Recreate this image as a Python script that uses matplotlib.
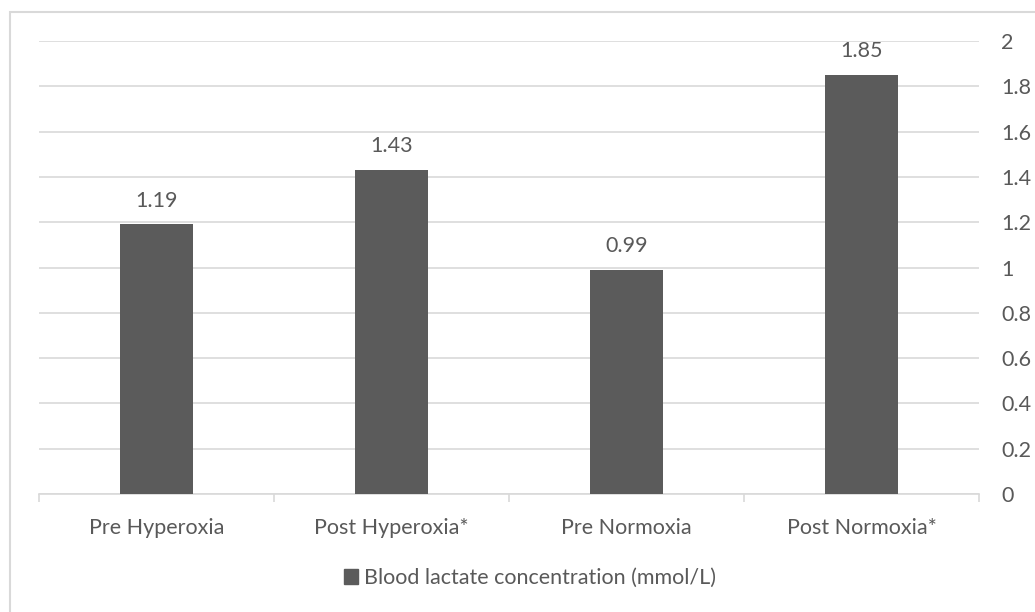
import matplotlib.pyplot as plt
from matplotlib.patches import Rectangle

categories = ["Pre Hyperoxia", "Post Hyperoxia*", "Pre Normoxia", "Post Normoxia*"]
values = [1.19, 1.43, 0.99, 1.85]
y_ticks = [0, 0.2, 0.4, 0.6, 0.8, 1, 1.2, 1.4, 1.6, 1.8, 2]
tick_labels = ["0", "0.2", "0.4", "0.6", "0.8", "1", "1.2", "1.4", "1.6", "1.8", "2"]
legend_label = "Blood lactate concentration (mmol/L)"

bar_color = "#5b5b5b"
text_color = "#595959"
grid_color = "#d9d9d9"
fs = 15.5

plt.rcParams['font.family'] = ['Lato', 'DejaVu Sans']

W, H = 1035, 612
fig = plt.figure(figsize=(W / 100, H / 100), dpi=100)

# chart frame (runs off the right and bottom edges)
fig.patches.append(Rectangle((10 / W, -0.1), 1.2, 1 - 12 / H + 0.1,
                             transform=fig.transFigure, fill=False,
                             edgecolor=grid_color, linewidth=1.5))

ax = fig.add_axes([39 / W, 1 - 494 / H, 940 / W, (494 - 41) / H])
x = list(range(len(categories)))
ax.bar(x, values, width=0.31, color=bar_color, zorder=3)
ax.set_xlim(-0.5, len(categories) - 0.5)
ax.set_ylim(0, 2)

for xi, v in zip(x, values):
    ax.annotate(f"{v:.2f}", (xi, v), xytext=(0, 10), textcoords="offset points",
                ha="center", va="bottom", fontsize=fs, color=text_color)

ax.yaxis.tick_right()
ax.set_yticks(y_ticks)
ax.set_yticklabels(tick_labels)
ax.tick_params(axis="y", length=0, pad=16, labelsize=fs, labelcolor=text_color)
ax.set_xticks(x)
ax.set_xticklabels(categories)
ax.tick_params(axis="x", length=0, pad=17, labelsize=fs, labelcolor=text_color)

# category boundary ticks
ax.set_xticks([-0.5, 0.5, 1.5, 2.5, 3.5], minor=True)
ax.tick_params(axis="x", which="minor", length=6, color=grid_color, width=1.2,
               direction="out")

ax.grid(axis="y", color=grid_color, linewidth=1.2, zorder=0)
for s in ["top", "left", "right"]:
    ax.spines[s].set_visible(False)
ax.spines["bottom"].set_color(grid_color)
ax.spines["bottom"].set_linewidth(1.2)

handle = Rectangle((0, 0), 1, 1, color=bar_color)
fig.legend([handle], [legend_label], loc="center", bbox_to_anchor=(530 / W, 1 - 578 / H),
           frameon=False, fontsize=fs, labelcolor=text_color,
           handlelength=0.65, handleheight=0.65, handletextpad=0.3)

fig.savefig("out.png", dpi=100)
